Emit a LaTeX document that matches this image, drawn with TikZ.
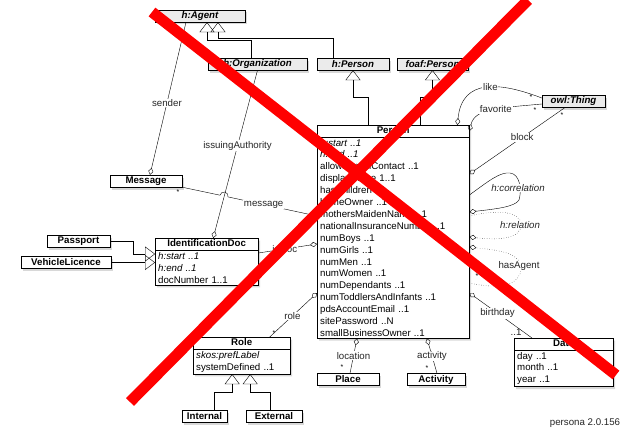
\documentclass[tikz,border=0pt]{standalone}
\usepackage{fontspec}
\setmainfont{Liberation Sans}
\usetikzlibrary{arrows.meta,shapes.multipart,shadows}
\newcommand{\dgmfont}{\fontsize{9.7}{11.9}\selectfont}
\newcommand{\hdstrut}{\rule[-2pt]{0pt}{7pt}}

\begin{document}
\begin{tikzpicture}[x=1pt,y=1pt,
	dshadow/.style={drop shadow={shadow xshift=2pt,shadow yshift=-2.5pt,opacity=0.3}},
	box/.style={draw,fill=white,dshadow,minimum height=12pt,inner sep=0pt,font=\dgmfont\bfseries},
	abox/.style={box,fill=black!8,font=\dgmfont\bfseries\itshape},
	cls/.style={rectangle split,rectangle split parts=2,draw,fill=white,dshadow,anchor=north west,text width=#1,inner xsep=3pt,inner ysep=1.5pt,font=\dgmfont,align=left},
	lbl/.style={fill=white,inner sep=0.8pt,font=\dgmfont,text=black!85},
	mult/.style={inner sep=0pt,font=\fontsize{7}{7}\selectfont},
	gen/.style={-{Triangle[open,length=10pt,width=15pt]}},
	agg/.style={-{Diamond[open,length=7pt,width=5pt]}},
	rel/.style={agg,dotted}]

	\fill[white] (0,0) rectangle (623,-428);
	\useasboundingbox (0,0) rectangle (623,-428);

	\node[abox,minimum width=90pt] (agent) at (200,-16) {h:Agent};
	\node[abox,minimum width=99pt] (org) at (257.5,-64) {h:Organization};
	\node[abox,minimum width=72pt] (hperson) at (353,-64) {h:Person};
	\node[abox,minimum width=71pt] (foafperson) at (432.5,-64) {foaf:Person};
	\node[abox,minimum width=63pt] (owlthing) at (573.5,-101) {owl:Thing};

	\node[box,minimum width=72pt] (message) at (146,-181) {Message};
	\node[box,minimum width=63pt] (passport) at (78.5,-241.5) {Passport};
	\node[box,minimum width=90pt] (vehicle) at (66,-262.5) {VehicleLicence};
	\node[box,minimum width=62pt] (place) at (348,-379.5) {Place};
	\node[box,minimum width=58pt] (activity) at (436,-379.5) {Activity};
	\node[box,minimum width=45pt] (internal) at (204.5,-416) {Internal};
	\node[box,minimum width=56pt] (external) at (274,-416) {External};

	\node[cls=146pt] (person) at (317,-125) {\centering\bfseries\hdstrut Person\par
		\nodepart{two}\raggedright\textit{h:start ..1}\\\textit{h:end ..1}\\allowsEmailContact ..1\\displayName 1..1\\hasChildren ..1\\homeOwner ..1\\mothersMaidenName ..1\\nationalInsuranceNumber ..1\\numBoys ..1\\numGirls ..1\\numMen ..1\\numWomen ..1\\numDependants ..1\\numToddlersAndInfants ..1\\pdsAccountEmail ..1\\sitePassword ..N\\smallBusinessOwner ..1};
	\node[cls=97pt] (iddoc) at (155,-238) {\centering\bfseries\hdstrut IdentificationDoc\par
		\nodepart{two}\raggedright\textit{h:start ..1}\\\textit{h:end ..1}\\docNumber 1..1};
	\node[cls=91pt] (role) at (193,-337) {\centering\bfseries\hdstrut Role\par
		\nodepart{two}\raggedright\textit{skos:prefLabel}\\systemDefined ..1};
	\node[cls=93pt] (date) at (514,-338) {\centering\bfseries\hdstrut Date\par
		\nodepart{two}\raggedright day ..1\\month ..1\\year ..1};

	\draw[gen] ([xshift=-6.5pt]org.north) -- ++(0,18) -| ([xshift=7pt]agent.south);
	\draw[gen] ([xshift=-20pt]hperson.north) -- ++(0,20) -| ([xshift=18pt]agent.south);
	\draw[gen] ([xshift=51pt]person.north west) -- ++(0,28) -| (hperson.south);
	\draw[gen] ([xshift=103pt]person.north west) -- ++(0,28) -| (foafperson.south);
	\draw[gen] (passport.east) -- ++(23,0) |- ([yshift=-16pt]iddoc.north west);
	\draw[gen] (vehicle.east) -- (vehicle.east -| iddoc.west);
	\draw[gen] ([xshift=9.5pt]internal.north) -- ++(0,18) -| ([xshift=-9.5pt]role.south);
	\draw[gen] ([xshift=-4pt]external.north) -- ++(0,18) -| ([xshift=8.5pt]role.south);

	\draw[agg] ([xshift=-14pt]agent.south) -- node[lbl,pos=0.53]{sender} ([xshift=4pt]message.north);
	\draw[agg] (org.south) -- node[lbl,pos=0.45]{issuingAuthority} ([xshift=6.5pt]iddoc.north);
	\draw[agg] (message.south east) -- (220,-195.2) arc[start angle=168,end angle=-12,radius=4.1] -- node[lbl,pos=0.4]{message} ([yshift=-91pt]person.north west);
	\draw[agg] ([yshift=-15pt]iddoc.north east) -- node[lbl,pos=0.45]{idDoc} ([yshift=-119pt]person.north west);
	\draw[agg] ([xshift=28pt]role.north) -- node[lbl,pos=0.48]{role} ([yshift=-168pt]person.north west);
	\draw[agg] ([xshift=2pt]place.north) -- node[lbl]{location} ([xshift=40pt]person.south west);
	\draw[agg] ([xshift=1pt]activity.north) -- node[lbl]{activity} ([xshift=110pt]person.south west);
	\draw[agg] ([xshift=18pt]date.north west) -- node[lbl,pos=0.55]{birthday} ([yshift=-168pt]person.north east);

	\draw[agg] ([yshift=3pt]owlthing.west) .. controls (500,-82) and (462,-78) .. node[lbl,pos=0.45]{like} ([xshift=-12pt]person.north east);
	\draw[agg] ([yshift=-3pt]owlthing.west) .. controls (500,-108) and (475,-108) .. node[lbl,pos=0.45]{favorite} ([yshift=-6pt]person.north east);
	\draw[agg] ([xshift=-8pt]owlthing.south) -- node[lbl,pos=0.45]{block} ([yshift=-49pt]person.north east);

	\draw[agg] ([yshift=-70pt]person.north east) .. controls (490,-180) and (500,-172) .. (510,-173) .. controls (520,-174) and (522,-190) .. (519,-200) .. controls (515,-207) and (495,-209) .. ([yshift=-87pt]person.north east)
		node[lbl,font=\dgmfont\itshape] at (518,-188) {h:correlation};
	\draw[rel] ([yshift=-91pt]person.north east) .. controls (495,-210) and (521,-210) .. (521,-225) .. controls (521,-240) and (495,-240) .. ([yshift=-112pt]person.north east)
		node[lbl,font=\dgmfont\itshape] at (520,-225) {h:relation};
	\draw[rel] ([yshift=-158pt]person.north east) .. controls (500,-290) and (521,-285) .. (521,-268) .. controls (521,-252) and (495,-250) .. ([yshift=-122pt]person.north east)
		node[lbl] at (519,-266) {hasAgent};

	\node[mult] (m1) at (531,-97) {*};
	\node[mult] (m2) at (535,-110) {*};
	\node[mult] (m3) at (562,-115) {*};
	\node[mult] (m4) at (178,-192) {*};
	\node[mult] (m5) at (342,-367) {*};
	\node[mult] (m6) at (427,-368) {*};
	\node[mult] (m7) at (274,-333) {*};
	\node[mult] (m8) at (477,-276) {*};
	\node[lbl,fill=none] (m9) at (516,-332) {..1};

	\node[lbl,fill=none] (version) at (585,-423) {persona 2.0.156};

	\draw[red,line width=11pt] (152,-12) -- (616,-375);
	\draw[red,line width=11pt] (528,0) -- (130,-402);
\end{tikzpicture}
\end{document}
